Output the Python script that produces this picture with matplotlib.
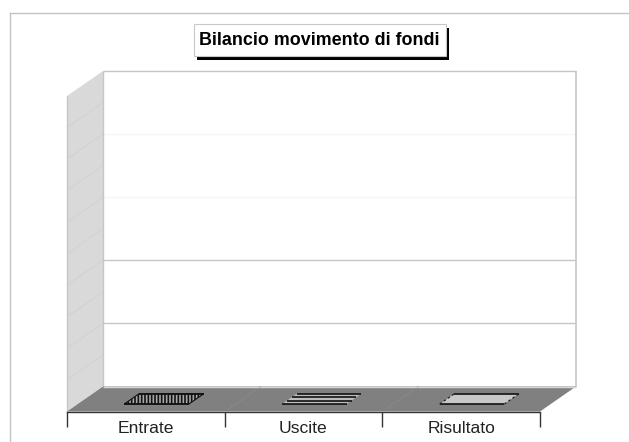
# Bilancio movimento di fondi - empty 3D style column chart
import matplotlib
matplotlib.use("Agg")
import matplotlib.pyplot as plt
from matplotlib.lines import Line2D
from matplotlib.patches import Rectangle
from matplotlib.transforms import IdentityTransform

plt.rcParams["font.family"] = ["Liberation Sans", "DejaVu Sans"]

# ── DATA ──────────────────────────────────────────────────────
title_text = "Bilancio movimento di fondi"
categories = ["Entrate", "Uscite", "Risultato"]
values = [0, 0, 0]
major_grid = [1, 2]
faint_grid = [3, 4]
wall_grid = [0.5, 1, 1.5, 2, 2.5, 3, 3.5, 4, 4.5]

# ── STYLE ─────────────────────────────────────────────────────
W, H = 629, 442
DEPTH_X = 36 / 157.67    # back wall shift, in category units
DEPTH_Y = 25 / 63.1      # back wall shift, in value units
BAR_WIDTH = 0.41
BAR_FRONT, BAR_BACK = 0.30, 0.71
EDGE = "#c6c6c6"
WALL = "#d9d9d9"
FLOOR = "#808080"


def proj(x, v, d):
    """Front plane data position pushed back to depth d (0..1)."""
    return x + d * DEPTH_X, v + d * DEPTH_Y


def quad(ax, pts, **kw):
    xs, ys = zip(*pts)
    return ax.fill(xs, ys, clip_on=False, **kw)


def seg(ax, a, b, **kw):
    ax.plot([a[0], b[0]], [a[1], b[1]], clip_on=False, solid_capstyle="butt", **kw)


fig = plt.figure(figsize=(W / 100, H / 100), dpi=100, facecolor="white")
ax = fig.add_axes([67 / W, (H - 411.5) / H, 473 / W, 315.5 / H])
ax.set_xlim(0, 3)
ax.set_ylim(0, 5)
ax.patch.set_visible(False)
for name in ("top", "left", "right"):
    ax.spines[name].set_visible(False)
ax.spines["bottom"].set_color("#333333")
ax.spines["bottom"].set_linewidth(1.0)
ax.set_yticks([])

# category boundaries get the ticks, names sit on the minor ticks
ax.set_xticks([0, 1, 2, 3])
ax.set_xticklabels([])
ax.tick_params(axis="x", which="major", length=10.5, width=1.0, color="#333333")
ax.set_xticks([i + 0.5 for i in range(len(categories))], minor=True)
ax.set_xticklabels(categories, minor=True, fontsize=12.6, color="#222222")
ax.tick_params(axis="x", which="minor", length=0, pad=6.5)

# ── WALLS AND FLOOR ───────────────────────────────────────────
quad(ax, [proj(0, 0, 0), proj(0, 0, 1), proj(0, 5, 1), proj(0, 5, 0)],
     facecolor=WALL, edgecolor="none", zorder=1)
quad(ax, [proj(0, 0, 0), proj(3, 0, 0), proj(3, 0, 1), proj(0, 0, 1)],
     facecolor=FLOOR, edgecolor="none", zorder=2)

for v in wall_grid:
    seg(ax, proj(0, v, 0), proj(0, v, 1), color="#d0d0d0", lw=0.6, zorder=1.5)
for v in faint_grid:
    seg(ax, proj(0, v, 1), proj(3, v, 1), color="#f5f5f5", lw=1, zorder=1.5)
for v in major_grid:
    seg(ax, proj(0, v, 1), proj(3, v, 1), color=EDGE, lw=1, zorder=1.5)

# back wall and left wall outline
seg(ax, proj(0, 5, 1), proj(3, 5, 1), color=EDGE, lw=1, zorder=1.6)
seg(ax, proj(3, 5, 1), proj(3, 0, 1), color=EDGE, lw=1.2, zorder=1.6)
seg(ax, proj(0, 5, 1), proj(0, 0, 1), color=EDGE, lw=1, zorder=1.6)
seg(ax, proj(0, 0, 0), proj(0, 5, 0), color=EDGE, lw=1, zorder=1.6)
seg(ax, proj(0, 0, 1), proj(3, 0, 1), color="#d8d8d8", lw=1, zorder=2.1)

# faint seams on the floor between categories
for x in (1, 2):
    ax.plot(*zip(proj(x, 0, 0.1), proj(x, 0, 1)), color="#929292", lw=0.6, ls=(0, (2, 1.5)),
            clip_on=False, zorder=2.1)

# ── BARS (all zero height, only their footprint shows) ────────
def footprint(i, v):
    l, r = i + 0.5 - BAR_WIDTH / 2, i + 0.5 + BAR_WIDTH / 2
    return [proj(l, v, BAR_FRONT), proj(r, v, BAR_FRONT),
            proj(r, v, BAR_BACK), proj(l, v, BAR_BACK)]


plt.rcParams["hatch.linewidth"] = 1.2

# Entrate: vertical stripes
p = footprint(0, values[0])
quad(ax, p, facecolor="#a8a8a8", edgecolor="#111111", hatch="|||||", lw=0.8, zorder=3)
seg(ax, p[0], p[1], color="#111111", lw=1.2, zorder=3.1)
seg(ax, p[3], p[2], color="#111111", lw=1.2, zorder=3.1)

# Uscite: horizontal stripes
p = footprint(1, values[1])
quad(ax, p, facecolor="#bdbdbd", edgecolor="none", zorder=3)
for k in range(4):
    d = BAR_FRONT + k * (BAR_BACK - BAR_FRONT) / 3
    a = proj(1 + 0.5 - BAR_WIDTH / 2, values[1], d)
    b = proj(1 + 0.5 + BAR_WIDTH / 2, values[1], d)
    seg(ax, a, b, color="#111111", lw=1.2, zorder=3.1)

# Risultato: light fill, dotted sides
p = footprint(2, values[2])
quad(ax, p, facecolor="#c8c8c8", edgecolor="none", zorder=3)
seg(ax, p[0], p[1], color="#111111", lw=1.2, zorder=3.1)
seg(ax, p[3], p[2], color="#111111", lw=1.2, zorder=3.1)
ax.plot([p[0][0], p[3][0]], [p[0][1], p[3][1]], color="#222222", lw=0.9, ls=(0, (2, 2)),
        clip_on=False, zorder=3.1)
ax.plot([p[1][0], p[2][0]], [p[1][1], p[2][1]], color="#222222", lw=0.9, ls=(0, (2, 2)),
        clip_on=False, zorder=3.1)

# ── OUTER FRAME AND TITLE BOX ─────────────────────────────────
def px_y(y):
    return H - y


identity = IdentityTransform()
fig.add_artist(Line2D([9.5, W], [px_y(12.5), px_y(12.5)], transform=identity, color="#c4c4c4", lw=1))
fig.add_artist(Line2D([9.5, 9.5], [px_y(12.5), 0], transform=identity, color="#c4c4c4", lw=1))

fig.add_artist(Rectangle((197, px_y(60)), 252, 32, transform=identity,
                         facecolor="black", edgecolor="none", zorder=5))
fig.add_artist(Rectangle((193.5, px_y(56)), 252, 32, transform=identity,
                         facecolor="white", edgecolor="#c8c8c8", lw=0.8, zorder=6))
fig.text(319.5 / W, px_y(40.5) / H, title_text, fontsize=12.85, fontweight="bold",
         color="black", ha="center", va="center", zorder=7)

fig.savefig("out.png", dpi=100)
